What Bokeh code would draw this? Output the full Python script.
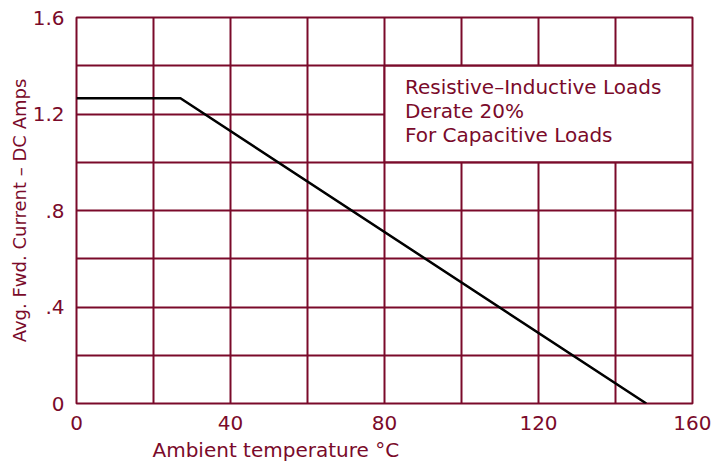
from bokeh.plotting import figure
from bokeh.models import Range1d, FixedTicker, CustomJSTickFormatter, Label, Title
from bokeh.embed import file_html
from bokeh.resources import INLINE

# Data
temp = [0, 27, 148]
current = [1.265, 1.265, 0.0]
x_ticks = [0, 40, 80, 120, 160]
y_ticks = [0, 0.4, 0.8, 1.2, 1.6]
x_grid = [0, 20, 40, 60, 80, 100, 120, 140, 160]
y_grid = [0, 0.2, 0.4, 0.6, 0.8, 1.0, 1.2, 1.4, 1.6]
note_lines = ["Resistive\u2013Inductive Loads", "Derate 20%", "For Capacitive Loads"]
note_box = dict(left=80, right=160, bottom=1.0, top=1.4)

MAROON = "#7a0a2a"
FONT = "DejaVu Sans"

p = figure(frame_width=616, frame_height=386, output_backend="svg", toolbar_location=None,
           x_range=Range1d(0, 160), y_range=Range1d(0, 1.6),
           min_border_left=76, min_border_right=19, min_border_top=17, min_border_bottom=40)
p.background_fill_color = "white"
p.border_fill_color = "white"
p.outline_line_color = MAROON
p.outline_line_width = 2

for ax in (p.xaxis[0], p.yaxis[0]):
    ax.axis_line_color = None
    ax.major_tick_line_color = None
    ax.minor_tick_line_color = None
    ax.major_label_text_color = MAROON
    ax.major_label_text_font = FONT
    ax.major_label_text_font_size = "20px"
    ax.axis_label_text_color = MAROON
    ax.axis_label_text_font = FONT
    ax.axis_label_text_font_size = "18px"
    ax.axis_label_text_font_style = "normal"

p.xaxis.ticker = FixedTicker(ticks=x_ticks)
p.yaxis.ticker = FixedTicker(ticks=y_ticks)
p.xaxis.major_label_standoff = 6
p.yaxis.major_label_standoff = 6
p.yaxis.formatter = CustomJSTickFormatter(code="return tick == 0 ? '0' : tick.toFixed(1).replace(/^0/, '');")
p.yaxis.axis_label = "Avg. Fwd. Current \u2013 DC Amps"
p.yaxis.axis_label_standoff = 0

p.xgrid.ticker = FixedTicker(ticks=x_grid)
p.ygrid.ticker = FixedTicker(ticks=y_grid)
for g in (p.xgrid[0], p.ygrid[0]):
    g.grid_line_color = MAROON
    g.grid_line_width = 2
    g.grid_line_alpha = 1.0

# white box for the note
p.quad(left=[note_box["left"]], right=[note_box["right"]], bottom=[note_box["bottom"]],
       top=[note_box["top"]], fill_color="white", line_color=MAROON, line_width=2)

p.line(temp, current, line_color="black", line_width=2.5)

for i, t in enumerate(note_lines):
    p.add_layout(Label(x=85.3, y=1.312 - 0.1 * i, text=t, text_color=MAROON,
                       text_font=FONT, text_font_size="20px",
                       text_baseline="middle", text_align="left"))

p.add_layout(Title(text="Ambient temperature \u00b0C", align="left", offset=76,
                   text_color=MAROON, text_font=FONT, text_font_size="20px",
                   text_font_style="normal", standoff=6), "below")

open("out.html", "w").write(file_html(p, INLINE))
